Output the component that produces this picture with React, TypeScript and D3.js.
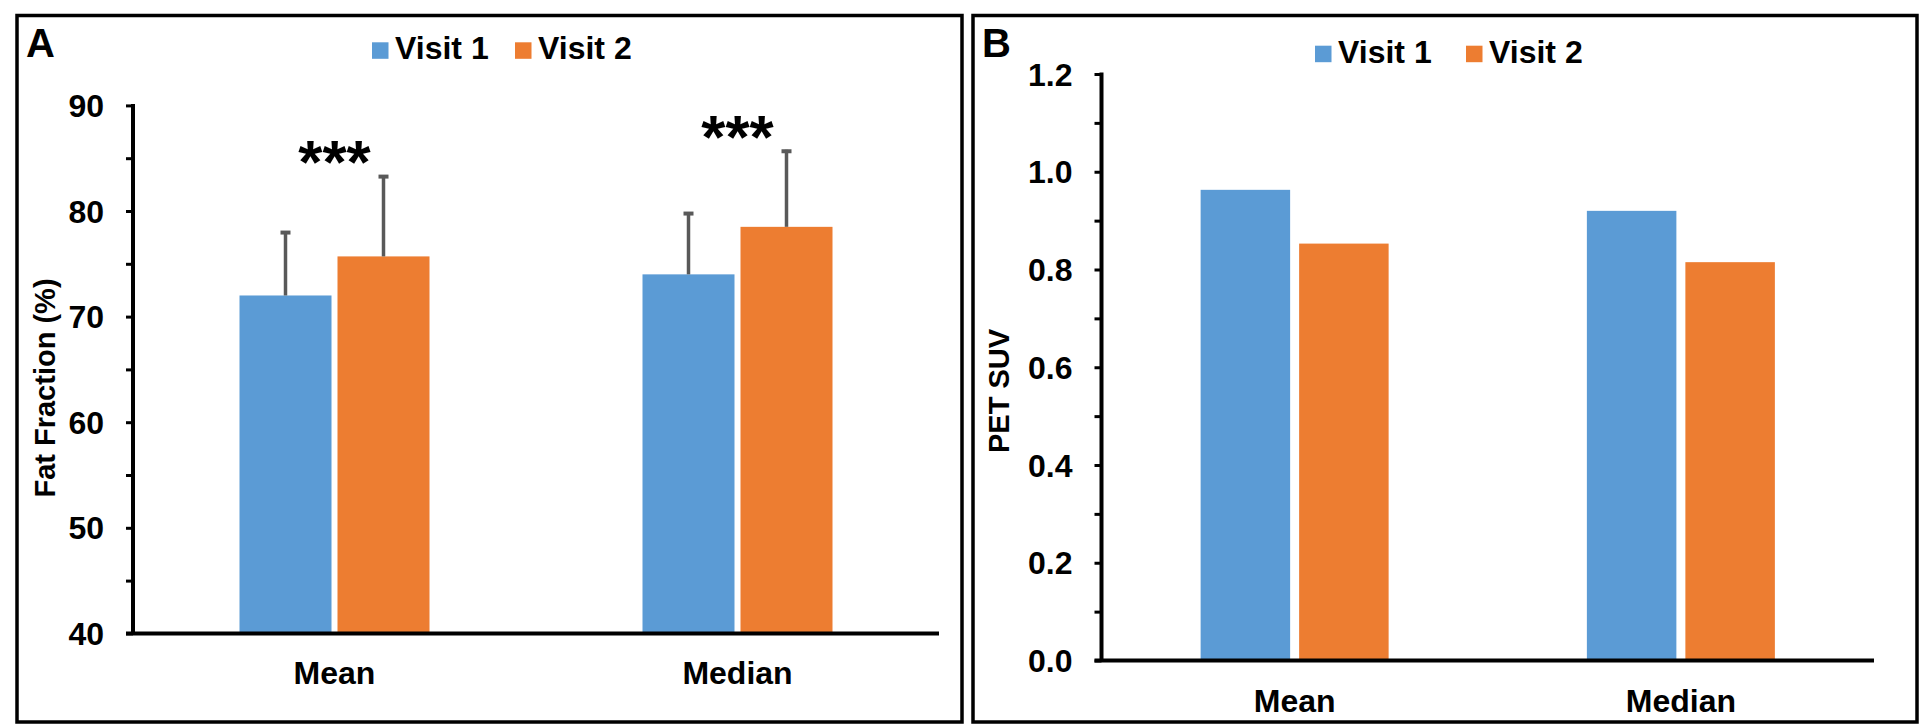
import React, { useEffect, useRef } from 'react';
import * as d3 from 'd3';

// categories / series
const categories = ['Mean', 'Median'];
const seriesNames = ['Visit 1', 'Visit 2'];
const seriesColors = ['#5B9BD5', '#ED7D31'];

// panel A: fat fraction (%)
const fatVisit1 = [72.0, 74.0];
const fatVisit2 = [75.7, 78.5];
const fatSdVisit1 = [6.1, 5.9];
const fatSdVisit2 = [7.7, 7.3];
const fatStars = ['***', '***'];
const fatTicks = [40, 50, 60, 70, 80, 90];

// panel B: PET SUV
const suvVisit1 = [0.963, 0.92];
const suvVisit2 = [0.853, 0.815];
const suvTicks = [0, 0.2, 0.4, 0.6, 0.8, 1.0, 1.2];

const FONT = 'Arial, "Liberation Sans", sans-serif';

interface PanelOpts {
  frame: [number, number, number, number]; // x0, y0, x1, y1
  letter: string;
  letterX: number;
  plotLeft: number;
  plotRight: number;
  plotTop: number;
  plotBottom: number;
  domain: [number, number];
  ticks: number[];
  minorStep: number;
  fmt: (v: number) => string;
  yLabel: string;
  yLabelX: number;
  yLabelY: number;
  legendX: number;
  legendY: number;
  legendStep: number;
  barW: number;
  barGap: number;
  values: number[][];
  errors?: number[][];
  stars?: string[];
}

function drawPanel(svg: d3.Selection<SVGSVGElement, unknown, null, undefined>, o: PanelOpts) {
  const g = svg.append('g');
  const [fx0, fy0, fx1, fy1] = o.frame;

  g.append('rect')
    .attr('x', fx0).attr('y', fy0)
    .attr('width', fx1 - fx0).attr('height', fy1 - fy0)
    .attr('fill', 'none').attr('stroke', '#000').attr('stroke-width', 3.5);

  g.append('text')
    .attr('x', o.letterX).attr('y', 57)
    .attr('font-family', FONT).attr('font-weight', 'bold').attr('font-size', 40)
    .text(o.letter);

  const y = d3.scaleLinear().domain(o.domain).range([o.plotBottom, o.plotTop]);
  const x0 = d3.scaleBand<string>().domain(categories).range([o.plotLeft, o.plotRight]);
  const groupW = o.barW * 2 + o.barGap;
  const step = o.barW + o.barGap;
  const x1 = d3.scaleBand<string>().domain(seriesNames)
    .range([-groupW / 2, groupW / 2])
    .paddingInner(o.barGap / step).paddingOuter(0);

  // bars
  seriesNames.forEach((s, si) => {
    categories.forEach((c, ci) => {
      const v = o.values[si][ci];
      const cx = x0(c)! + x0.bandwidth() / 2;
      g.append('rect')
        .attr('x', cx + x1(s)!)
        .attr('y', y(v))
        .attr('width', x1.bandwidth())
        .attr('height', y(o.domain[0]) - y(v))
        .attr('fill', seriesColors[si]);
    });
  });

  // error bars
  if (o.errors) {
    seriesNames.forEach((s, si) => {
      categories.forEach((c, ci) => {
        const v = o.values[si][ci];
        const e = o.errors![si][ci];
        const bx = x0(c)! + x0.bandwidth() / 2 + x1(s)! + x1.bandwidth() / 2;
        g.append('line')
          .attr('x1', bx).attr('x2', bx)
          .attr('y1', y(v)).attr('y2', y(v + e))
          .attr('stroke', '#595959').attr('stroke-width', 3.5);
        g.append('line')
          .attr('x1', bx - 5).attr('x2', bx + 5)
          .attr('y1', y(v + e) + 1.5).attr('y2', y(v + e) + 1.5)
          .attr('stroke', '#595959').attr('stroke-width', 4);
      });
    });
  }

  // significance stars
  if (o.stars && o.errors) {
    categories.forEach((c, ci) => {
      const top = Math.max(o.values[0][ci] + o.errors![0][ci], o.values[1][ci] + o.errors![1][ci]);
      g.append('text')
        .attr('x', x0(c)! + x0.bandwidth() / 2)
        .attr('y', y(top) + 8)
        .attr('text-anchor', 'middle')
        .attr('font-family', FONT).attr('font-weight', 'bold').attr('font-size', 62)
        .text(o.stars![ci]);
    });
  }

  // y axis with major + minor ticks
  const yAxis = d3.axisLeft(y)
    .tickValues(d3.range(o.domain[0], o.domain[1] + o.minorStep / 2, o.minorStep))
    .tickSize(7)
    .tickFormat(() => '');
  const ya = g.append('g').attr('transform', `translate(${o.plotLeft},0)`).call(yAxis);
  ya.select('.domain').remove();
  ya.selectAll('.tick line').attr('stroke', '#000').attr('stroke-width', 3);
  g.append('line')
    .attr('x1', o.plotLeft).attr('x2', o.plotLeft)
    .attr('y1', o.plotTop - 1.5).attr('y2', o.plotBottom)
    .attr('stroke', '#000').attr('stroke-width', 4);

  o.ticks.forEach((t) => {
    g.append('text')
      .attr('x', o.plotLeft - 29)
      .attr('y', y(t))
      .attr('dy', '0.36em')
      .attr('text-anchor', 'end')
      .attr('font-family', FONT).attr('font-weight', 'bold').attr('font-size', 32)
      .text(o.fmt(t));
  });

  // x axis
  g.append('line')
    .attr('x1', o.plotLeft - 7).attr('x2', o.plotRight)
    .attr('y1', o.plotBottom).attr('y2', o.plotBottom)
    .attr('stroke', '#000').attr('stroke-width', 4);

  categories.forEach((c) => {
    g.append('text')
      .attr('x', x0(c)! + x0.bandwidth() / 2)
      .attr('y', o.plotBottom + 51)
      .attr('text-anchor', 'middle')
      .attr('font-family', FONT).attr('font-weight', 'bold').attr('font-size', 32)
      .text(c);
  });

  // y label
  g.append('text')
    .attr('transform', `translate(${o.yLabelX},${o.yLabelY}) rotate(-90)`)
    .attr('text-anchor', 'middle')
    .attr('font-family', FONT).attr('font-weight', 'bold').attr('font-size', 29)
    .text(o.yLabel);

  // legend
  seriesNames.forEach((s, si) => {
    const lx = o.legendX + si * o.legendStep;
    g.append('rect')
      .attr('x', lx).attr('y', o.legendY - 17)
      .attr('width', 16.5).attr('height', 16.5)
      .attr('fill', seriesColors[si]);
    g.append('text')
      .attr('x', lx + 23).attr('y', o.legendY)
      .attr('font-family', FONT).attr('font-weight', 'bold').attr('font-size', 32)
      .text(s);
  });
}

const App: React.FC = () => {
  const svgRef = useRef<SVGSVGElement>(null);

  useEffect(() => {
    if (!svgRef.current) return;
    const svg = d3.select(svgRef.current);
    svg.selectAll('*').remove();

    drawPanel(svg, {
      frame: [17, 15.5, 962, 722],
      letter: 'A',
      letterX: 26,
      plotLeft: 133,
      plotRight: 939,
      plotTop: 105.4,
      plotBottom: 633.4,
      domain: [40, 90],
      ticks: fatTicks,
      minorStep: 5,
      fmt: (v) => d3.format('d')(v),
      yLabel: 'Fat Fraction (%)',
      yLabelX: 55,
      yLabelY: 388,
      legendX: 372,
      legendY: 59.3,
      legendStep: 143,
      barW: 92,
      barGap: 6,
      values: [fatVisit1, fatVisit2],
      errors: [fatSdVisit1, fatSdVisit2],
      stars: fatStars,
    });

    drawPanel(svg, {
      frame: [973, 15.5, 1917, 722],
      letter: 'B',
      letterX: 982,
      plotLeft: 1101.5,
      plotRight: 1874,
      plotTop: 74,
      plotBottom: 660.5,
      domain: [0, 1.2],
      ticks: suvTicks,
      minorStep: 0.1,
      fmt: (v) => d3.format('.1f')(v),
      yLabel: 'PET SUV',
      yLabelX: 1009,
      yLabelY: 391,
      legendX: 1315,
      legendY: 62.7,
      legendStep: 151,
      barW: 89.5,
      barGap: 9,
      values: [suvVisit1, suvVisit2],
    });
  }, []);

  return (
    <svg
      ref={svgRef}
      width={1920}
      height={725}
      style={{ position: 'absolute', left: 0, top: 0, background: '#fff' }}
    />
  );
};

export default App;
